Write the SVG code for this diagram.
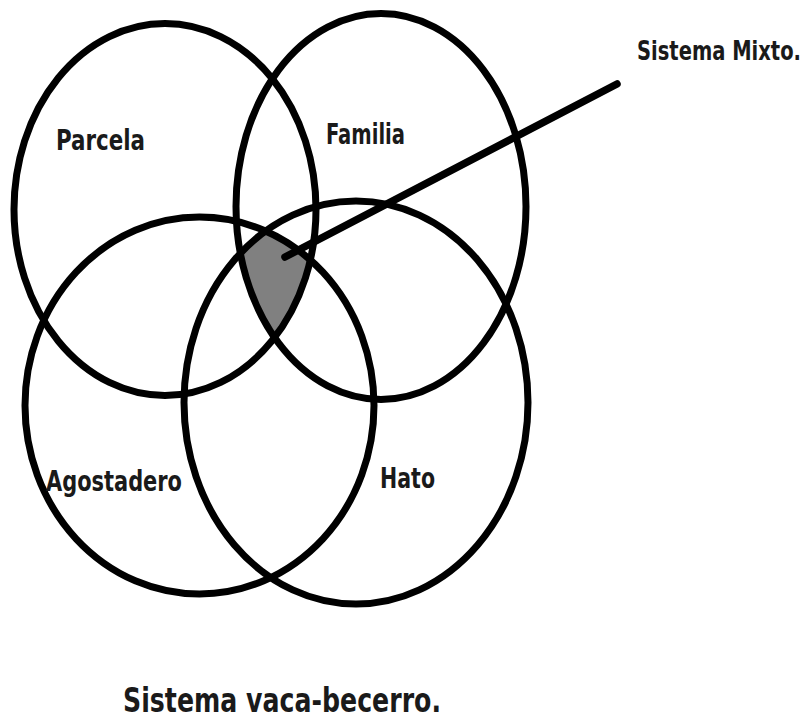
<svg xmlns="http://www.w3.org/2000/svg" width="810" height="719" viewBox="0 0 810 719">
<style>
.ring{fill:none;stroke:#000;stroke-width:7}
.lbl{font-family:"DejaVu Sans Condensed","DejaVu Sans",sans-serif;font-stretch:condensed;font-weight:bold;fill:#1a1a1a}
</style>
<defs>
<clipPath id="cP"><ellipse cx="165" cy="209.5" rx="151" ry="186"/></clipPath>
<clipPath id="cF"><ellipse cx="381" cy="206.5" rx="145" ry="193"/></clipPath>
<clipPath id="cA"><ellipse cx="199.5" cy="405.5" rx="174.5" ry="188.5"/></clipPath>
</defs>
<rect width="810" height="719" fill="#fff"/>
<g id="mixto-area"><g clip-path="url(#cP)"><g clip-path="url(#cF)"><g clip-path="url(#cA)"><ellipse cx="356" cy="402.5" rx="172" ry="201.5" fill="#808080"/></g></g></g></g>
<g id="parcela"><ellipse class="ring" cx="165" cy="209.5" rx="151" ry="186"/><text class="lbl" x="56" y="150" font-size="28" textLength="89" lengthAdjust="spacingAndGlyphs">Parcela</text></g>
<g id="familia"><ellipse class="ring" cx="381" cy="206.5" rx="145" ry="193"/><text class="lbl" x="326" y="144" font-size="28" textLength="79" lengthAdjust="spacingAndGlyphs">Familia</text></g>
<g id="agostadero"><ellipse class="ring" cx="199.5" cy="405.5" rx="174.5" ry="188.5"/><text class="lbl" x="46" y="491" font-size="28" textLength="136" lengthAdjust="spacingAndGlyphs">Agostadero</text></g>
<g id="hato"><ellipse class="ring" cx="356" cy="402.5" rx="172" ry="201.5"/><text class="lbl" x="380" y="488" font-size="28" textLength="55" lengthAdjust="spacingAndGlyphs">Hato</text></g>
<g id="connectors"><line x1="285" y1="257" x2="617" y2="84" stroke="#000" stroke-width="7.5" stroke-linecap="round"/></g>
<g id="sistema-mixto"><text class="lbl" x="637" y="60" transform="matrix(1 0 0 1.3 0 -18)" font-size="20" textLength="164" lengthAdjust="spacingAndGlyphs">Sistema Mixto.</text></g>
<g id="titulo"><text class="lbl" x="123" y="712" font-size="33" textLength="318" lengthAdjust="spacingAndGlyphs">Sistema vaca-becerro.</text></g>
</svg>
